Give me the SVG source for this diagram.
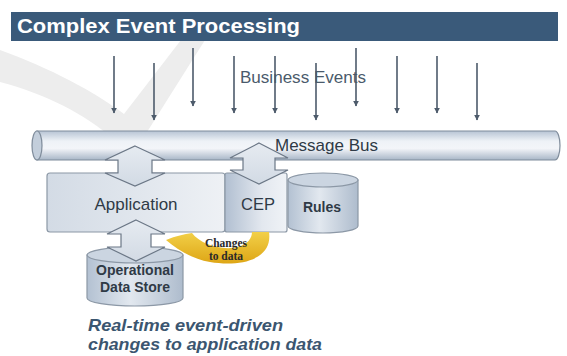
<svg xmlns="http://www.w3.org/2000/svg" width="567" height="356" viewBox="0 0 567 356">
<defs>
<linearGradient id="busG" x1="0" y1="0" x2="0" y2="1">
<stop offset="0" stop-color="#b7c4d4"/><stop offset="0.35" stop-color="#eef2f7"/><stop offset="0.6" stop-color="#f3f5f9"/><stop offset="1" stop-color="#a8b6c7"/>
</linearGradient>
<linearGradient id="appG" x1="0" y1="0" x2="1" y2="0">
<stop offset="0" stop-color="#d3dbe5"/><stop offset="1" stop-color="#eef1f5"/>
</linearGradient>
<linearGradient id="cepG" x1="0" y1="0" x2="1" y2="0">
<stop offset="0" stop-color="#b1bfd1"/><stop offset="0.6" stop-color="#e3e8ef"/><stop offset="1" stop-color="#f0f3f7"/>
</linearGradient>
<linearGradient id="cylG" x1="0" y1="0" x2="1" y2="0">
<stop offset="0" stop-color="#b3c1d2"/><stop offset="0.45" stop-color="#e2e8ef"/><stop offset="1" stop-color="#aebccd"/>
</linearGradient>
<linearGradient id="arrG" x1="0" y1="0" x2="0" y2="1">
<stop offset="0" stop-color="#e6ebf1"/><stop offset="1" stop-color="#d2dae4"/>
</linearGradient>
<linearGradient id="yelG" x1="0" y1="0" x2="0" y2="1">
<stop offset="0" stop-color="#f2d048"/><stop offset="1" stop-color="#dea616"/>
</linearGradient>
<marker id="ah" viewBox="0 0 10 10" refX="9" refY="5" markerWidth="6" markerHeight="7" markerUnits="userSpaceOnUse" orient="auto">
<path d="M0,0 L10,5 L0,10 Z" fill="#4d5b6b"/>
</marker>
</defs>
<style>
.ev{stroke:#4d5b6b;stroke-width:1.6;fill:none;marker-end:url(#ah)}
.dbl{fill:url(#arrG);stroke:#6b7786;stroke-width:1.2;stroke-linejoin:miter}
.box{stroke:#8c98a6;stroke-width:1.2}
.cyl{fill:url(#cylG);stroke:#8c98a6;stroke-width:1.2}
.cyltop{fill:#cbd5e1;stroke:#8c98a6;stroke-width:1.2}
.lbl{font-family:"Liberation Sans",Arial,sans-serif;fill:#2f3a46}
.chg{font-family:"Liberation Serif","Times New Roman",serif;font-weight:bold;font-size:11.5px;fill:#2a2a2a}
</style>
<rect width="567" height="356" fill="#ffffff"/>
<path id="watermark" d="M0 50 C 50 68, 95 92, 124 114 L 181 40 L 205 40 L 142 140 L 114 140 C 86 114, 45 94, 0 82 Z" fill="#ededed"/>
<g id="title">
<rect x="11" y="12" width="547" height="29" fill="#3a5a7a"/>
<text x="17" y="33" font-family="Liberation Sans,Arial,sans-serif" font-weight="bold" font-size="20" fill="#ffffff" textLength="283" lengthAdjust="spacingAndGlyphs">Complex Event Processing</text>
</g>
<text id="business-events" x="240" y="83" font-family="Liberation Sans,Arial,sans-serif" font-size="16" fill="#4a5a6b" textLength="126" lengthAdjust="spacingAndGlyphs">Business Events</text>
<g id="event-arrows">
<line class="ev" x1="114" y1="56" x2="114" y2="113"/>
<line class="ev" x1="154" y1="63" x2="154" y2="120"/>
<line class="ev" x1="193" y1="48" x2="193" y2="106"/>
<line class="ev" x1="234" y1="56" x2="234" y2="113"/>
<line class="ev" x1="275" y1="56" x2="275" y2="113"/>
<line class="ev" x1="316" y1="63" x2="316" y2="120"/>
<line class="ev" x1="356" y1="48" x2="356" y2="106"/>
<line class="ev" x1="397" y1="56" x2="397" y2="113"/>
<line class="ev" x1="437" y1="56" x2="437" y2="113"/>
<line class="ev" x1="477" y1="63" x2="477" y2="120"/>
</g>
<g id="message-bus">
<path d="M37 131 L555 131 A5 14.5 0 0 1 555 160 L37 160 Z" fill="url(#busG)" stroke="#7f8c9b" stroke-width="1.2"/>
<ellipse cx="37" cy="145.5" rx="5" ry="14.5" fill="#c3cedb" stroke="#7f8c9b" stroke-width="1.2"/>
<text class="lbl" x="275" y="151" font-size="17">Message Bus</text>
</g>
<g id="rules">
<path class="cyl" d="M288 180 L288 226 A35 7 0 0 0 358 226 L358 180 Z"/>
<ellipse class="cyltop" cx="323" cy="180" rx="35" ry="7"/>
<text class="lbl" x="322" y="212" font-size="14" font-weight="bold" text-anchor="middle">Rules</text>
</g>
<g id="application">
<rect class="box" x="47" y="173" width="178" height="59" rx="3" fill="url(#appG)"/>
<text class="lbl" x="136" y="210" font-size="17" text-anchor="middle">Application</text>
</g>
<g id="cep">
<rect class="box" x="225" y="173" width="62" height="59" rx="2" fill="url(#cepG)"/>
<text class="lbl" x="258" y="210" font-size="16.5" text-anchor="middle">CEP</text>
</g>
<g id="ods">
<path class="cyl" d="M87 255 L87 298 A48 8 0 0 0 183 298 L183 255 Z"/>
<ellipse class="cyltop" cx="135" cy="255" rx="48" ry="8"/>
<text class="lbl" x="135" y="275" font-size="14" font-weight="bold" text-anchor="middle">Operational</text>
<text class="lbl" x="135" y="292" font-size="14" font-weight="bold" text-anchor="middle">Data Store</text>
</g>
<g id="connectors">
<path class="dbl" d="M135 146 L165 160 L152 160 L152 173 L165 173 L135 186 L105 173 L118 173 L118 160 L105 160 Z"/>
<path class="dbl" d="M259 143 L288 158 L275 158 L275 170 L288 170 L259 184 L230 170 L243 170 L243 158 L230 158 Z"/>
<path class="dbl" d="M136 220 L165 234 L151 234 L151 247 L165 247 L136 261 L107 247 L121 247 L121 234 L107 234 Z"/>
<path id="changes-arrow" d="M269 232 C 273 260, 240 267, 210 262 C 192 259, 178 250, 166 240 C 176 236, 184 234, 192 233 C 200 244, 222 251, 238 247 C 248 244, 252 238, 252 232 Z" fill="url(#yelG)"/>
<text class="chg" x="226" y="247" text-anchor="middle">Changes</text>
<text class="chg" x="226" y="260" text-anchor="middle">to data</text>
</g>
<g id="caption" font-family="Liberation Sans,Arial,sans-serif" font-weight="bold" font-style="italic" font-size="17" fill="#3b5670">
<text x="88" y="331" textLength="195" lengthAdjust="spacingAndGlyphs">Real-time event-driven</text>
<text x="88" y="350" textLength="234" lengthAdjust="spacingAndGlyphs">changes to application data</text>
</g>
</svg>
